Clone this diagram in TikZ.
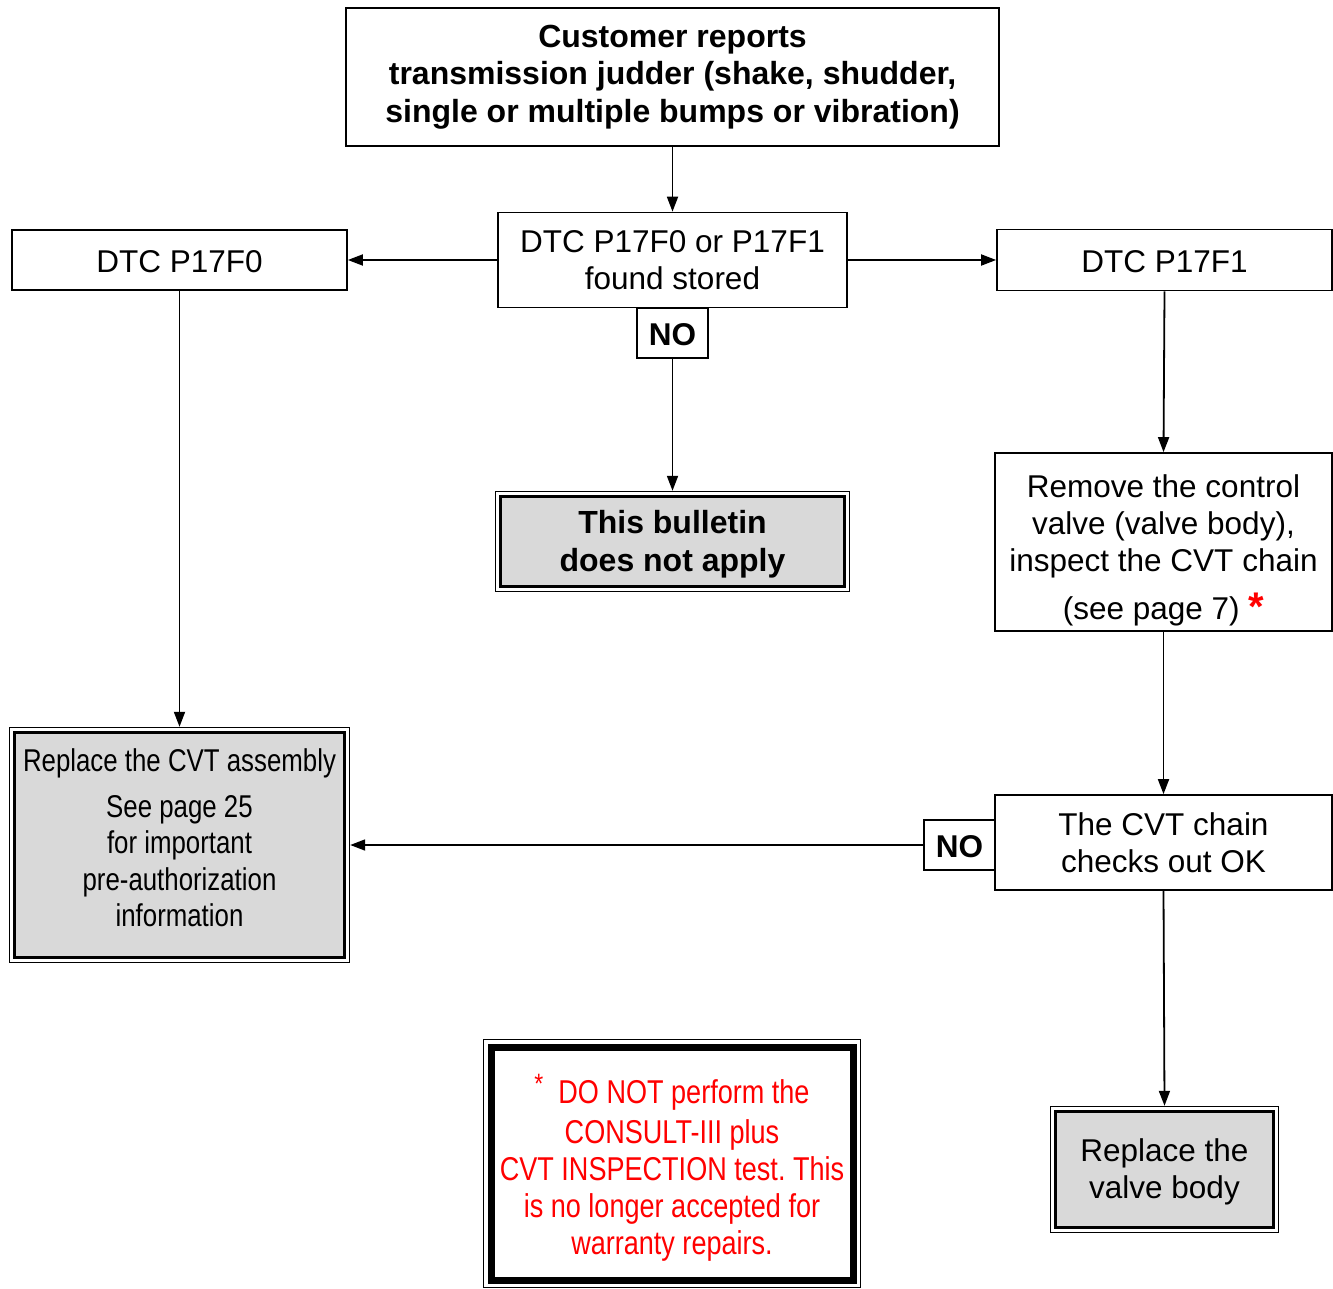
\documentclass[tikz,border=0pt]{standalone}
\usepackage{fontspec}
\setmainfont{Liberation Sans}
\newfontfamily\narrowfont{Liberation Sans}[FakeStretch=0.82]
\usetikzlibrary{arrows.meta,fit}
\frenchspacing
\begin{document}
\frenchspacing
\begin{tikzpicture}[x=1pt,y=-1pt,
  every node/.style={font=\fontsize{31.5}{37}\selectfont, align=center, inner sep=0pt},
  box/.style={draw, line width=1.7pt, fill=white},
  grayin/.style={draw, line width=3pt, fill=gray!30},
  outerframe/.style={draw, line width=1.4pt, inner sep=#1},
  arr/.style={line width=1.8pt, -{Triangle[length=15pt,width=11pt]}}]
\useasboundingbox (0,0) rectangle (1333,1289);

% top box
\node[box, minimum width=653pt, minimum height=138pt, font=\fontsize{32}{37.5}\selectfont\bfseries] (top) at (672.5,77)
  {Customer reports\\ transmission judder (shake, shudder,\\ single or multiple bumps or vibration)};

\node[box, minimum width=349pt, minimum height=95pt] (mid) at (672.5,260)
  {DTC P17F0 or P17F1\\ found stored};
\node[box, minimum width=71pt, minimum height=50pt, font=\fontsize{31.5}{37}\selectfont\bfseries] (no1) at (672.5,333) {\rule{0pt}{26pt}NO};

\node[box, minimum width=335pt, minimum height=60pt] (p0) at (179.5,260) {\rule{0pt}{25pt}DTC P17F0};
\node[box, minimum width=335pt, minimum height=61pt] (p1) at (1164.5,260) {\rule{0pt}{25pt}DTC P17F1};

% bulletin
\node[grayin, minimum width=344pt, minimum height=90pt, font=\fontsize{32}{38}\selectfont\bfseries] (bul) at (672.5,541.5)
  {\rule{0pt}{29pt}This bulletin\\ does not apply};
\node[outerframe=3.5pt, fit=(bul)] (bulo) {};

% remove box
\node[box, minimum width=337pt, minimum height=178pt] (rem) at (1163.5,542)
  {\rule{0pt}{39pt}Remove the control\\ valve (valve body),\\ inspect the CVT chain\\[11pt]
   (see page 7) {\color{red}\bfseries\fontsize{40}{40}\selectfont\raisebox{-1pt}{*}}};

% CVT chain OK
\node[box, minimum width=337pt, minimum height=95pt] (ok) at (1163.5,842.5)
  {The CVT chain\\ checks out OK};
\node[box, minimum width=71pt, minimum height=50pt, font=\fontsize{31.5}{37}\selectfont\bfseries] (no2) at (959.5,845) {\rule{0pt}{26pt}NO};

% CVT assembly
\node[grayin, minimum width=330pt, minimum height=225pt, font=\fontsize{31.5}{36.5}\narrowfont] (asm) at (179.5,845)
  {Replace the CVT assembly\\[9pt] See page 25\\ for important\\ pre-authorization\\ information\rule[-14pt]{0pt}{14pt}};
\node[outerframe=3.5pt, fit=(asm)] (asmo) {};

% valve body
\node[grayin, minimum width=218pt, minimum height=116pt] (vb) at (1164.5,1169.5)
  {\rule{0pt}{27pt}Replace the\\ valve body};
\node[outerframe=3.5pt, fit=(vb)] (vbo) {};

% red note
\node[draw, line width=7pt, fill=white, minimum width=362pt, minimum height=233pt,
      font=\fontsize{33}{37}\narrowfont, text=red] (note) at (672,1163.5)
  {\rule{0pt}{37pt}\raisebox{10pt}{\fontsize{28}{28}\selectfont *}\ \ DO NOT perform the\\[3pt]
   CONSULT-III plus\\ CVT INSPECTION test. This\\ is no longer accepted for\\ warranty repairs.};
\node[outerframe=4pt, fit=(note)] (noteo) {};

% connectors
\draw[arr] (top.south) -- (mid.north);
\draw[arr] (mid.west) -- (p0.east);
\draw[arr] (mid.east) -- (p1.west);
\draw[arr] (no1.south) -- (bulo.north);
\draw[arr] (p0.south) -- (asmo.north);
\draw[arr] (p1.south) -- (rem.north);
\draw[arr] (rem.south) -- (ok.north);
\draw[arr] (no2.west) -- (no2.west -| asmo.east);
\draw[arr] (ok.south) -- (vbo.north);
\end{tikzpicture}
\end{document}
